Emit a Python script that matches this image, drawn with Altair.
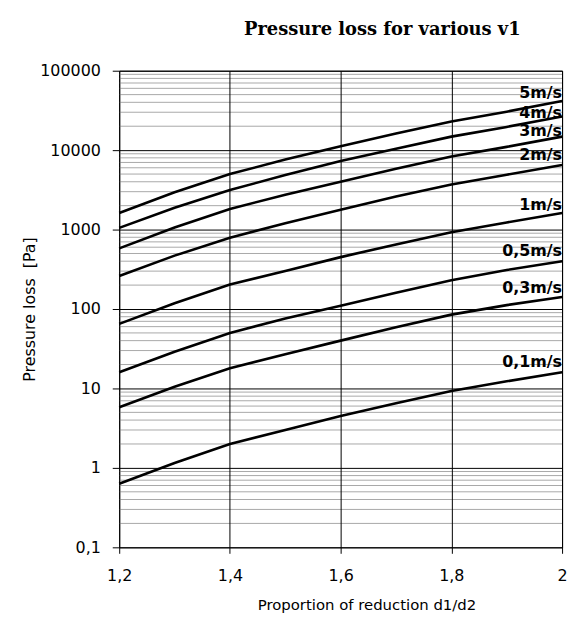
import altair as alt
import pandas as pd

ratio = [1.2, 1.3, 1.4, 1.5, 1.6, 1.7, 1.8, 1.9, 2.0]
speeds = ["0,1m/s", "0,3m/s", "0,5m/s", "1m/s", "2m/s", "3m/s", "4m/s", "5m/s"]
v_01 = [0.63, 1.15, 2.0, 3.0, 4.5, 6.5, 9.3, 12.3, 16.0]
v_03 = [5.8, 10.5, 18, 27, 40, 59, 85, 112, 142]
v_05 = [16, 29, 50, 76, 110, 160, 230, 310, 400]
v_1 = [65, 118, 204, 300, 450, 650, 925, 1230, 1620]
v_2 = [260, 470, 790, 1200, 1780, 2600, 3700, 4900, 6500]
v_3 = [580, 1060, 1820, 2750, 4000, 5850, 8300, 11000, 14800]
v_4 = [1050, 1880, 3150, 4850, 7300, 10400, 14800, 19600, 26500]
v_5 = [1620, 2950, 5000, 7600, 11200, 16200, 23000, 30500, 41500]
label_y = [21.8, 183, 531, 2050, 8660, 17300, 29300, 52000]
x_ticks = [1.2, 1.4, 1.6, 1.8, 2]
y_ticks = [0.1, 1, 10, 100, 1000, 10000, 100000]

series = [v_01, v_03, v_05, v_1, v_2, v_3, v_4, v_5]
rows = []
for name, vals in zip(speeds, series):
    for r, v in zip(ratio, vals):
        rows.append({"x": r, "y": v, "s": name})
lines_df = pd.DataFrame(rows)
labels_df = pd.DataFrame({"x": [2.0] * len(speeds), "y": label_y, "s": speeds})
minor_df = pd.DataFrame({"y": [m * 10.0 ** e for e in range(-1, 5) for m in range(2, 10)]})

xscale = alt.Scale(domain=[1.2, 2], nice=False, zero=False)
yscale = alt.Scale(type="log", domain=[0.1, 100000], nice=False)

xaxis = alt.Axis(
    values=x_ticks,
    labelExpr="replace(toString(datum.value), '.', ',')",
    title="Proportion of reduction d1/d2",
    grid=True, gridColor="black", gridWidth=1, gridOpacity=1,
    domain=False, tickColor="black", tickSize=6, labelFlush=False,
    labelFont="DejaVu Sans", labelFontSize=16, labelColor="black", labelPadding=14,
    titleFont="DejaVu Sans", titleFontSize=15, titleFontWeight="normal", titleColor="black",
    titleX=249, titleAlign="center", titlePadding=15, zindex=1,
)
yaxis = alt.Axis(
    values=y_ticks,
    labelExpr="replace(toString(datum.value), '.', ',')",
    title="Pressure loss\u00a0\u00a0[Pa]",
    grid=True, gridColor="black", gridWidth=1, gridOpacity=1,
    domain=False, tickColor="black", tickSize=7, labelFlush=False,
    labelFont="DejaVu Sans", labelFontSize=16, labelColor="black", labelPadding=12,
    titleFont="DejaVu Sans", titleFontSize=16, titleFontWeight="normal", titleColor="black",
    titleX=-90, titleY=240, titleAngle=270, titleAlign="center", titleBaseline="middle",
    zindex=1,
)

minor = alt.Chart(minor_df).mark_rule(color="#a8a8a8", strokeWidth=1).encode(
    y=alt.Y("y:Q", scale=yscale, axis=yaxis)
)

lines = alt.Chart(lines_df).mark_line(color="black", strokeWidth=2.6).encode(
    x=alt.X("x:Q", scale=xscale, axis=xaxis),
    y=alt.Y("y:Q", scale=yscale, axis=yaxis),
    detail="s:N",
)

labels = alt.Chart(labels_df).mark_text(
    align="right", baseline="middle", font="DejaVu Sans", fontSize=16,
    fontWeight="bold", color="black"
).encode(
    x=alt.X("x:Q", scale=xscale, axis=xaxis),
    y=alt.Y("y:Q", scale=yscale, axis=yaxis),
    text="s:N",
)

chart = alt.layer(minor, lines, labels).properties(
    width=446,
    height=480,
    autosize=alt.AutoSizeParams(type="none"),
    padding={"left": 112, "top": 61, "right": 10, "bottom": 66},
    title=alt.TitleParams(
        "Pressure loss for various v1",
        font="DejaVu Serif", fontSize=18, fontWeight="bold", color="black",
        anchor="middle", dx=42, offset=10, baseline="alphabetic",
    ),
).configure_view(stroke="black", strokeWidth=1)

chart.save("out.html", embed_options={"renderer": "svg", "actions": False})
